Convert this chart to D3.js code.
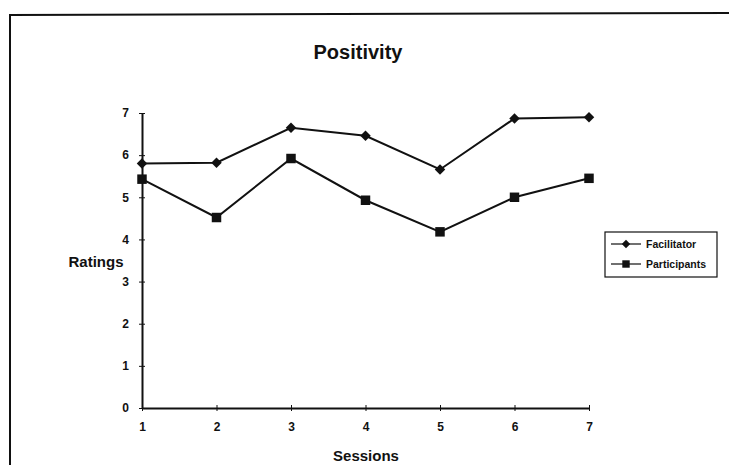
<!DOCTYPE html>
<html><head><meta charset="utf-8">
<script src="https://cdn.jsdelivr.net/npm/d3@7"></script>
<style>body{margin:0;background:#fff}svg{display:block}text{font-family:"Liberation Sans",Arial,sans-serif;fill:#111}</style>
</head><body>
<svg id="c" width="729" height="465"></svg>
<script>
const sessions = [1,2,3,4,5,6,7];
const facilitator = [5.80,5.82,6.65,6.46,5.66,6.87,6.90];
const participants = [5.43,4.52,5.92,4.93,4.18,5.00,5.45];
const yTicks = [0,1,2,3,4,5,6,7];
const seriesNames = ["Facilitator","Participants"];

const svg = d3.select("#c");
const x = d3.scaleLinear().domain([1,7]).range([142,589]);
const y = d3.scaleLinear().domain([0,7]).range([408,113]);

// frame
svg.append("path").attr("d","M10,465 L10,15 L729,13").attr("fill","none").attr("stroke","#111").attr("stroke-width",2);

svg.append("text").attr("x",358).attr("y",59).attr("text-anchor","middle")
  .style("font-size","20px").style("font-weight","bold").text("Positivity");

// axes
const ya = svg.append("g").attr("transform","translate(142,0)")
  .call(d3.axisLeft(y).tickValues(yTicks).tickSize(4).tickSizeOuter(0).tickFormat(d3.format("d")));
ya.select(".domain").attr("stroke","#111").attr("stroke-width",2);
ya.selectAll(".tick line").attr("x2",3).attr("x1",-3).attr("stroke","#111");
ya.selectAll(".tick text").attr("x",-13).style("font-size","12px").style("font-weight","bold").attr("fill","#111");

const xa = svg.append("g").attr("transform","translate(0,408)")
  .call(d3.axisBottom(x).tickValues(sessions).tickSize(4).tickSizeOuter(0).tickFormat(d3.format("d")));
xa.select(".domain").attr("stroke","#111").attr("stroke-width",2);
xa.selectAll(".tick line").attr("y1",-3).attr("y2",3).attr("stroke","#111");
xa.selectAll(".tick text").attr("y",14).style("font-size","12px").style("font-weight","bold").attr("fill","#111");

svg.append("text").attr("x",96).attr("y",267).attr("text-anchor","middle")
  .style("font-size","15px").style("font-weight","bold").text("Ratings");
svg.append("text").attr("x",366).attr("y",461).attr("text-anchor","middle")
  .style("font-size","15px").style("font-weight","bold").text("Sessions");

const line = d3.line().x((d,i)=>x(sessions[i])).y(d=>y(d));
[facilitator, participants].forEach(s=>{
  svg.append("path").datum(s).attr("d",line).attr("fill","none").attr("stroke","#111").attr("stroke-width",2);
});
const diamond = d3.symbol().type(d3.symbolDiamond2).size(70);
const square = d3.symbol().type(d3.symbolSquare).size(90);
svg.append("g").selectAll("path").data(facilitator).join("path")
  .attr("transform",(d,i)=>`translate(${x(sessions[i])},${y(d)})`).attr("d",diamond).attr("fill","#111");
svg.append("g").selectAll("path").data(participants).join("path")
  .attr("transform",(d,i)=>`translate(${x(sessions[i])},${y(d)})`).attr("d",square).attr("fill","#111");

// legend
const lg = svg.append("g");
lg.append("rect").attr("x",605).attr("y",232).attr("width",112).attr("height",45).attr("fill","#fff").attr("stroke","#111").attr("stroke-width",1.2);
seriesNames.forEach((n,i)=>{
  const yy = 244 + i*20;
  lg.append("line").attr("x1",611).attr("x2",641).attr("y1",yy).attr("y2",yy).attr("stroke","#111").attr("stroke-width",1.2);
  lg.append("path").attr("transform",`translate(626,${yy})`).attr("d", i===0 ? d3.symbol().type(d3.symbolDiamond2).size(45)() : d3.symbol().type(d3.symbolSquare).size(55)()).attr("fill","#111");
  lg.append("text").attr("x",646).attr("y",yy+4).style("font-size","10.5px").style("font-weight","bold").text(n);
});
</script>
</body></html>
